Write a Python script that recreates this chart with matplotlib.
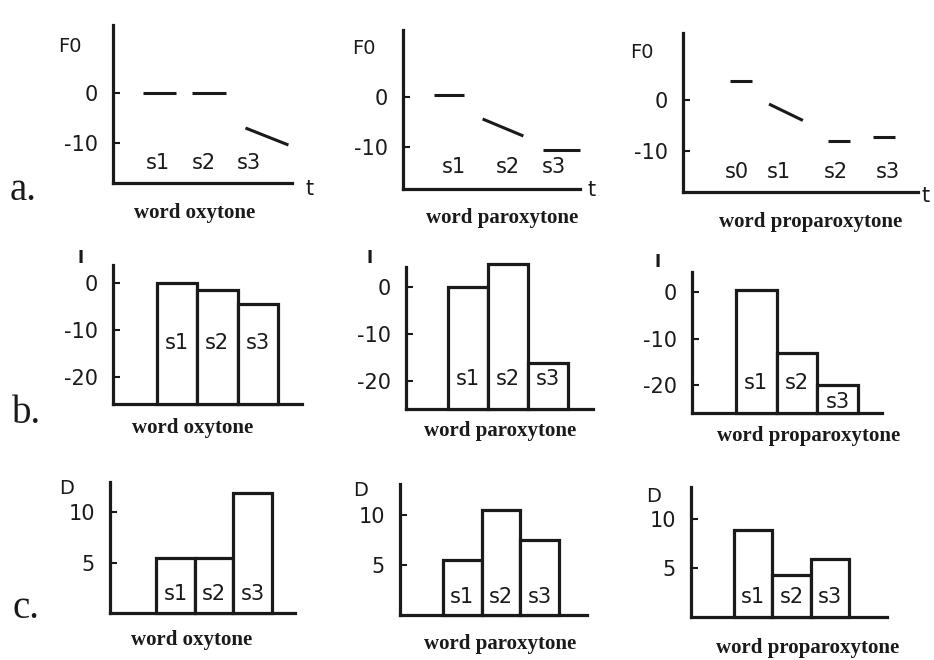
import matplotlib
matplotlib.use("Agg")
import matplotlib.pyplot as plt

plt.rcParams['axes.unicode_minus'] = False
plt.rcParams['font.family'] = 'DejaVu Sans'

W, H = 934, 660

# ---- data ----
# F0 contours: (start, end) time in % of panel width, (start, end) F0 value
oxy_f0_t = [(17, 35), (44, 63), (74, 98)]
oxy_f0 = [(0, 0), (0, 0), (-7, -10.4)]
parox_f0_t = [(17.5, 34.5), (45, 68), (79, 100)]
parox_f0 = [(0.4, 0.4), (-4.4, -7.8), (-10.6, -10.6)]
proparox_f0_t = [(20, 29.4), (36.6, 51), (61.7, 71), (81, 90)]
proparox_f0 = [(3.8, 3.8), (-0.8, -4), (-8, -8), (-7.2, -7.2)]

syl3 = ['s1', 's2', 's3']
syl4 = ['s0', 's1', 's2', 's3']

# intensity (I) and duration (D) per syllable
oxy_I = [0, -1.5, -4.5]
parox_I = [0, 4.9, -16.2]
proparox_I = [0.5, -13.2, -20]
oxy_D = [5.5, 5.5, 11.9]
parox_D = [5.5, 10.5, 7.5]
proparox_D = [8.9, 4.3, 5.9]

captions = ['word oxytone', 'word paroxytone', 'word proparoxytone']

INK = '#1a1a1a'

fig = plt.figure(figsize=(W / 100, H / 100), dpi=100)
fig.patch.set_facecolor('white')


def fx(x):
    return x / W


def fy(y):
    return 1 - y / H


def make_axes(L, R, T, B, ylim, xlim, yticks):
    ax = fig.add_axes([fx(L), fy(B), fx(R - L), (B - T) / H])
    ax.set_xlim(*xlim)
    ax.set_ylim(*ylim)
    for s in ['top', 'right']:
        ax.spines[s].set_visible(False)
    for s in ['left', 'bottom']:
        ax.spines[s].set_linewidth(2.3)
        ax.spines[s].set_color(INK)
    ax.set_xticks([])
    ax.set_yticks(yticks)
    ax.set_yticklabels([str(v) for v in yticks])
    ax.tick_params(axis='y', direction='in', length=5, width=1.5, pad=11,
                   labelsize=15, colors=INK)
    ax.patch.set_alpha(0)
    return ax


def f0_panel(L, R, T, B, ylim, times, vals, labels, label_x):
    ax = make_axes(L, R, T, B, ylim, (0, 100), [0, -10])
    for (t0, t1), (v0, v1) in zip(times, vals):
        ax.plot([t0, t1], [v0, v1], color=INK, lw=2.2,
                solid_capstyle='butt', clip_on=False)
    for lab, x in zip(labels, label_x):
        ax.text(x, -14, lab, ha='center', va='center', fontsize=15, color=INK)
    return ax


def bar_panel(L, R, T, B, ylim, xlim, yticks, vals, labels, label_y):
    ax = make_axes(L, R, T, B, ylim, xlim, yticks)
    lo = ylim[0]
    xs = list(range(len(vals)))
    ax.bar(xs, [v - lo for v in vals], bottom=lo, width=1, align='edge',
           facecolor='white', edgecolor=INK, linewidth=2.3,
           clip_on=False, zorder=3)
    for x, lab, ly in zip(xs, labels, label_y):
        ax.text(x + 0.5, ly, lab, ha='center', va='center', fontsize=15,
                color=INK, zorder=4)
    return ax


# row a: F0
f0_panel(113, 292, 25, 183, (-18, 13.6), oxy_f0_t, oxy_f0, syl3, [25, 51, 76])
f0_panel(403, 580, 30, 189, (-18.4, 13.4), parox_f0_t, parox_f0, syl3, [29, 59, 85])
f0_panel(683, 918, 33, 192, (-18, 13.1), proparox_f0_t, proparox_f0, syl4,
         [23, 41, 65, 87])

# row b: intensity
bar_panel(113, 302, 265, 404, (-25.7, 3.8), (-1.09, 3.6), [0, -10, -20],
          oxy_I, syl3, [-12.7] * 3)
bar_panel(406, 593, 267, 409, (-26, 4.3), (-1.05, 3.63), [0, -10, -20],
          parox_I, syl3, [-19.7] * 3)
bar_panel(692, 882, 272, 413, (-26, 4.3), (-1.08, 3.59), [0, -10, -20],
          proparox_I, syl3, [-19.5, -19.5, -23.7])

# row c: duration
bar_panel(110, 295, 482, 613, (0, 13), (-1.19, 3.59), [5, 10],
          oxy_D, syl3, [1.9] * 3)
bar_panel(400, 587, 484, 615, (0, 13.1), (-1.11, 3.72), [5, 10],
          parox_D, syl3, [1.8] * 3)
bar_panel(691, 887, 487, 617, (0, 13.3), (-1.12, 3.99), [5, 10],
          proparox_D, syl3, [2.0] * 3)

# axis names
for x, y in [(70, 47), (364, 48), (642, 53)]:
    fig.text(fx(x), fy(y), 'F0', ha='center', va='center', fontsize=14, color=INK)
for x, y in [(81, 258), (370, 258), (658, 262)]:
    fig.text(fx(x), fy(y), 'I', ha='center', va='center', fontsize=12,
             weight='bold', color=INK)
for x, y in [(67, 488), (361, 490), (654, 496)]:
    fig.text(fx(x), fy(y), 'D', ha='center', va='center', fontsize=14, color=INK)
for x, y in [(310, 189), (592, 190), (926, 196)]:
    fig.text(fx(x), fy(y), 't', ha='center', va='center', fontsize=15, color=INK)

# captions
cap_pos = [[(195, 213), (502, 218), (811, 222)],
           [(193, 428), (500, 431), (809, 436)],
           [(192, 640), (500, 644), (808, 648)]]
for row in cap_pos:
    for (x, y), cap in zip(row, captions):
        fig.text(fx(x), fy(y), cap, ha='center', va='center', fontsize=15,
                 family='Liberation Serif', weight='bold', color=INK)

# row letters
for lab, x, y in [('a.', 10, 200), ('b.', 12, 423), ('c.', 13, 618)]:
    fig.text(fx(x), fy(y), lab, ha='left', va='baseline', fontsize=28,
             family='Liberation Serif', color=INK)

fig.savefig('out.png', dpi=100, facecolor='white')
